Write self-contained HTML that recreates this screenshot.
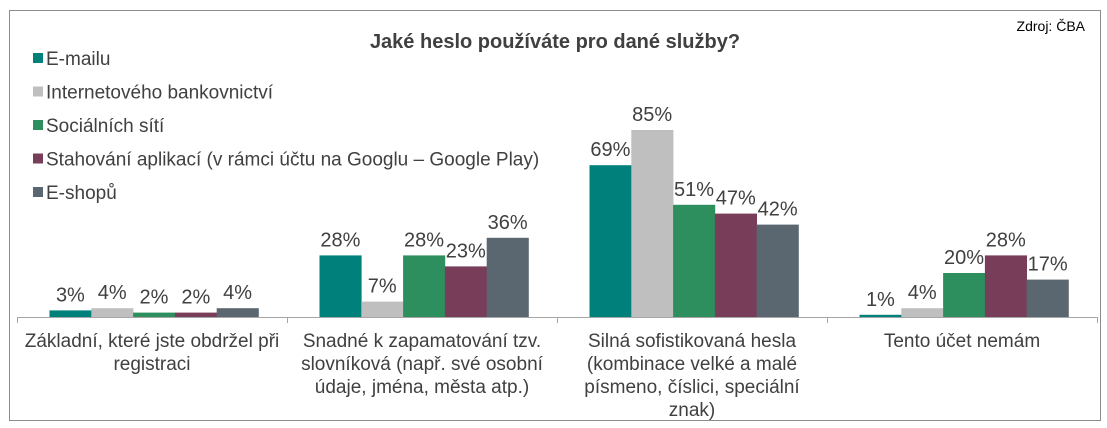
<!DOCTYPE html>
<html><head><meta charset="utf-8"><style>
body{margin:0;background:#fff;font-family:"Liberation Sans",Arial,sans-serif;}
svg text{font-family:"Liberation Sans",Arial,sans-serif;}
</style></head><body>
<svg id="c" width="1107" height="423" xmlns="http://www.w3.org/2000/svg">
<rect x="9.5" y="10.5" width="1091" height="410" fill="#fff" stroke="#8c8c8c"/>
<text x="555" y="48" text-anchor="middle" font-size="20" font-weight="bold" fill="#404040">Jaké heslo používáte pro dané služby?</text>
<text x="1085" y="31" text-anchor="end" font-size="14" fill="#000">Zdroj: ČBA</text>
<g id="legend"></g>
<g id="bars"></g>
<g id="axis"></g>
</svg>
<script>
const categories=[["Základní, které jste obdržel při","registraci"],["Snadné k zapamatování tzv.","slovníková (např. své osobní","údaje, jména, města atp.)"],["Silná sofistikovaná hesla","(kombinace velké a malé","písmeno, číslici, speciální","znak)"],["Tento účet nemám"]];
const seriesNames=["E-mailu","Internetového bankovnictví","Sociálních sítí","Stahování aplikací (v rámci účtu na Googlu – Google Play)","E-shopů"];
const email=[3,28,69,1];
const banking=[4,7,85,4];
const social=[2,28,51,20];
const apps=[2,23,47,28];
const eshops=[4,36,42,17];
const series=[email,banking,social,apps,eshops];
const colors=["#00807a","#bfbfbf","#2e8f5e","#773d59","#5b6770"];
const NS="http://www.w3.org/2000/svg";
const x0=17,gw=270,base=317,pxPer=2.2,bw=41.8,off=32.5;
const xScale=(g,s)=>x0+g*gw+off+s*bw;
const yScale=v=>base-v*pxPer;
function mk(t,a,p){const e=document.createElementNS(NS,t);for(const k in a)e.setAttribute(k,a[k]);p.appendChild(e);return e;}
const L=document.getElementById('legend'),B=document.getElementById('bars'),A=document.getElementById('axis');
seriesNames.forEach((n,i)=>{
 const y=58+i*33.5;
 const r=mk('rect',{x:33,y:y-5,width:10,height:10,fill:colors[i]},L);
 
 
 const t=mk('text',{x:46,y:y+7,'font-size':19,fill:'#404040'},L);t.textContent=n;
 
 
});
series.forEach((vals,s)=>vals.forEach((v,g)=>{
 const x=xScale(g,s),y=yScale(v);
 const r=mk('rect',{x:x,y:y,width:bw+0.3,height:base-y,fill:colors[s]},B);
 
 
 const t=mk('text',{x:x+bw/2,y:y-9,'text-anchor':'middle','font-size':20,fill:'#404040'},B);t.textContent=v+'%';
 
 
}));
const ax=mk('line',{x1:x0,y1:base+0.5,x2:x0+4*gw,y2:base+0.5,stroke:'#a6a6a6'},A);


for(let g=0;g<=4;g++){
 const tk=mk('line',{x1:x0+g*gw+0.5,y1:base,x2:x0+g*gw+0.5,y2:base+6,stroke:'#a6a6a6'},A);
 
 
}
categories.forEach((lines,g)=>{
 const t=mk('text',{x:x0+g*gw+gw/2,'text-anchor':'middle','font-size':19,fill:'#404040'},A);
 
 
 lines.forEach((ln,i)=>{const ts=mk('tspan',{x:x0+g*gw+gw/2,y:347+i*23},t);ts.textContent=ln;});
});
</script>
</body></html>
